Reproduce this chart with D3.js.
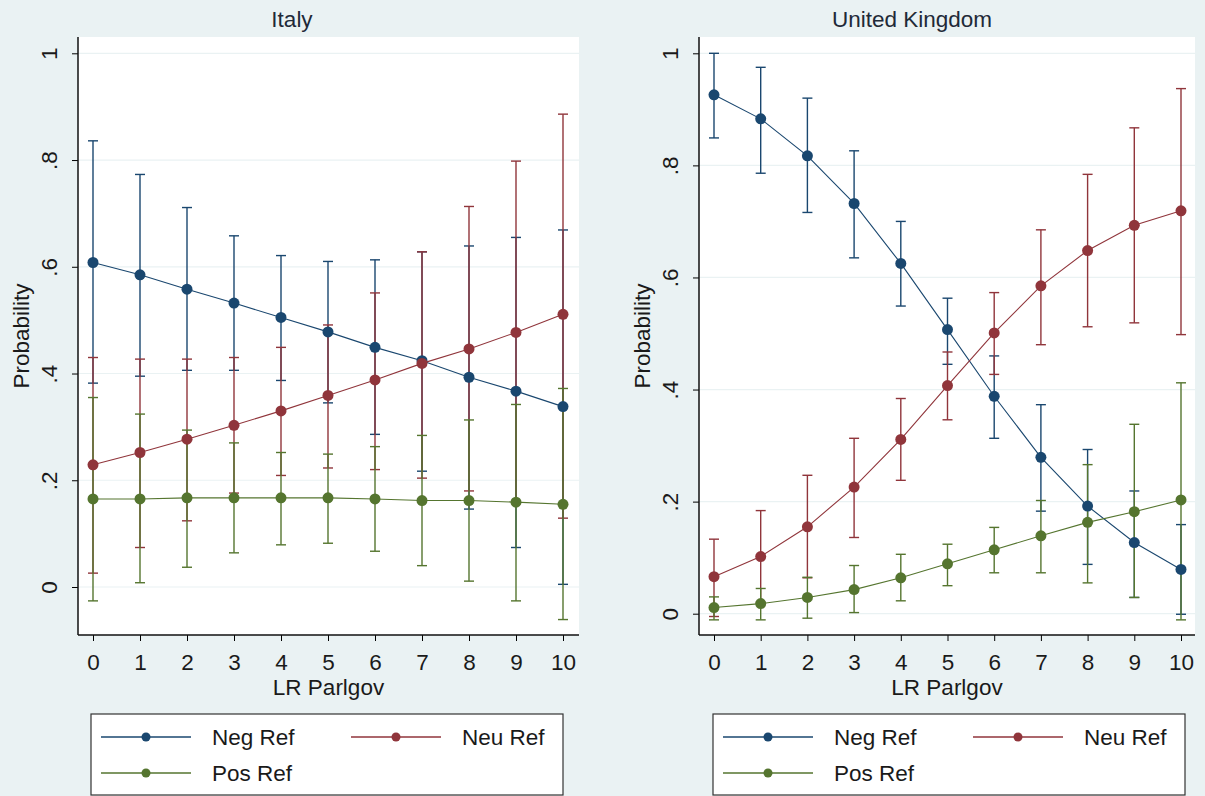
<!DOCTYPE html>
<html>
<head>
<meta charset="utf-8">
<script src="https://cdn.jsdelivr.net/npm/d3@7"></script>
<style>
body { margin: 0; background: #eaf2f3; }
text { font-family: "Liberation Sans", Arial, sans-serif; fill: #1a1a1a; }
</style>
</head>
<body>
<div id="chart-area"></div>
<script>

// Data
var lrTicks = [0, 1, 2, 3, 4, 5, 6, 7, 8, 9, 10];
var yTicks = [0, 0.2, 0.4, 0.6, 0.8, 1];
var yTickLabels = ["0", ".2", ".4", ".6", ".8", "1"];
var seriesNames = ["Neg Ref", "Neu Ref", "Pos Ref"];
var panelTitles = ["Italy", "United Kingdom"];

// Italy
var itNeg   = [0.608, 0.585, 0.558, 0.532, 0.505, 0.478, 0.449, 0.424, 0.393, 0.367, 0.338];
var itNegHi = [0.836, 0.773, 0.711, 0.658, 0.621, 0.610, 0.613, 0.628, 0.639, 0.655, 0.669];
var itNegLo = [0.382, 0.395, 0.406, 0.406, 0.387, 0.345, 0.286, 0.217, 0.146, 0.074, 0.005];
var itNeu   = [0.229, 0.252, 0.277, 0.303, 0.330, 0.359, 0.388, 0.419, 0.446, 0.477, 0.511];
var itNeuHi = [0.430, 0.427, 0.427, 0.430, 0.449, 0.491, 0.551, 0.628, 0.713, 0.798, 0.886];
var itNeuLo = [0.026, 0.074, 0.124, 0.176, 0.209, 0.223, 0.220, 0.204, 0.180, 0.156, 0.129];
var itPos   = [0.165, 0.165, 0.167, 0.167, 0.167, 0.167, 0.165, 0.162, 0.162, 0.159, 0.155];
var itPosHi = [0.355, 0.324, 0.294, 0.270, 0.252, 0.249, 0.263, 0.284, 0.313, 0.342, 0.372];
var itPosLo = [-0.026, 0.008, 0.037, 0.064, 0.079, 0.082, 0.067, 0.040, 0.011, -0.026, -0.061];

// United Kingdom
var ukNeg   = [0.926, 0.883, 0.817, 0.732, 0.625, 0.507, 0.388, 0.279, 0.192, 0.127, 0.079];
var ukNegHi = [1.000, 0.975, 0.920, 0.826, 0.700, 0.563, 0.460, 0.373, 0.293, 0.219, 0.159];
var ukNegLo = [0.849, 0.786, 0.716, 0.635, 0.549, 0.445, 0.313, 0.183, 0.088, 0.029, -0.001];
var ukNeu   = [0.066, 0.102, 0.155, 0.226, 0.311, 0.407, 0.501, 0.585, 0.648, 0.693, 0.719];
var ukNeuHi = [0.133, 0.184, 0.247, 0.313, 0.384, 0.467, 0.573, 0.685, 0.784, 0.867, 0.937];
var ukNeuLo = [-0.005, 0.020, 0.064, 0.136, 0.238, 0.346, 0.427, 0.480, 0.512, 0.519, 0.498];
var ukPos   = [0.011, 0.018, 0.029, 0.043, 0.064, 0.089, 0.114, 0.139, 0.163, 0.182, 0.203];
var ukPosHi = [0.030, 0.045, 0.065, 0.086, 0.106, 0.124, 0.154, 0.202, 0.266, 0.338, 0.412];
var ukPosLo = [-0.011, -0.011, -0.008, 0.002, 0.023, 0.050, 0.073, 0.073, 0.055, 0.029, -0.011];

// Stata s2color
var colors = ["#1a476f", "#90353b", "#55752f"];
var fontSize = 22.5;

var svg = d3.select("#chart-area").append("svg")
	.attr("width", 1205)
	.attr("height", 796);

svg.append("rect")
	.attr("width", 1205)
	.attr("height", 796)
	.attr("fill", "#eaf2f3");

var panels = [
	{ title: panelTitles[0], titleX: 292, left: 78, right: 579, xRange: [93, 563], yRange: [587, 53.3],
	  legendLeft: 91,
	  series: [[itNeg, itNegLo, itNegHi], [itNeu, itNeuLo, itNeuHi], [itPos, itPosLo, itPosHi]] },
	{ title: panelTitles[1], titleX: 912, left: 699, right: 1195, xRange: [714, 1181], yRange: [613.7, 53.3],
	  legendLeft: 713,
	  series: [[ukNeg, ukNegLo, ukNegHi], [ukNeu, ukNeuLo, ukNeuHi], [ukPos, ukPosLo, ukPosHi]] }
];

var plotTop = 37, plotBottom = 635;

panels.forEach(drawPanel);

function drawPanel(p) {
	var x = d3.scaleLinear().domain([0, 10]).range(p.xRange);
	var y = d3.scaleLinear().domain([0, 1]).range(p.yRange);

	var g = svg.append("g");

	// title
	g.append("text")
		.attr("x", p.titleX)
		.attr("y", 27)
		.attr("text-anchor", "middle")
		.style("font-size", fontSize + "px")
		.style("fill", "#1f2a38")
		.text(p.title);

	// plot region
	g.append("rect")
		.attr("x", p.left)
		.attr("y", plotTop)
		.attr("width", p.right - p.left)
		.attr("height", plotBottom - plotTop)
		.attr("fill", "#ffffff");

	// grid lines
	g.selectAll(".grid").data(yTicks).enter().append("line")
		.attr("class", "grid")
		.attr("x1", p.left)
		.attr("x2", p.right)
		.attr("y1", function(d) { return y(d); })
		.attr("y2", function(d) { return y(d); })
		.attr("stroke", "#eaf2f3")
		.attr("stroke-width", 1.2);

	// confidence intervals (rcap) first
	p.series.forEach(function(s, i) {
		var ci = g.append("g")
			.attr("stroke", colors[i])
			.attr("stroke-width", 1.4)
			.attr("fill", "none");
		var rows = lrTicks.map(function(v, j) { return { x: v, lo: s[1][j], hi: s[2][j] }; });

		ci.selectAll(".bar").data(rows).enter().append("line")
			.attr("x1", function(d) { return x(d.x); })
			.attr("x2", function(d) { return x(d.x); })
			.attr("y1", function(d) { return y(d.lo); })
			.attr("y2", function(d) { return y(d.hi); });

		["lo", "hi"].forEach(function(k) {
			ci.selectAll(".cap-" + k).data(rows).enter().append("line")
				.attr("x1", function(d) { return x(d.x) - 5; })
				.attr("x2", function(d) { return x(d.x) + 5; })
				.attr("y1", function(d) { return y(d[k]); })
				.attr("y2", function(d) { return y(d[k]); });
		});
	});

	// connected lines with markers
	var line = d3.line()
		.x(function(d) { return x(d.x); })
		.y(function(d) { return y(d.v); });

	p.series.forEach(function(s, i) {
		var pts = lrTicks.map(function(v, j) { return { x: v, v: s[0][j] }; });
		g.append("path")
			.attr("d", line(pts))
			.attr("fill", "none")
			.attr("stroke", colors[i])
			.attr("stroke-width", 1.1);
		g.selectAll(".pt" + i).data(pts).enter().append("circle")
			.attr("cx", function(d) { return x(d.x); })
			.attr("cy", function(d) { return y(d.v); })
			.attr("r", 5.5)
			.attr("fill", colors[i]);
	});

	// y axis
	var yAxis = d3.axisLeft(y)
		.tickValues(yTicks)
		.tickFormat(function(d, i) { return yTickLabels[i]; })
		.tickSize(6);
	var yg = g.append("g")
		.attr("transform", "translate(" + p.left + ",0)")
		.call(yAxis);
	yg.select(".domain").remove();
	yg.selectAll("line").attr("stroke", "#000");
	yg.selectAll("text")
		.attr("transform", "rotate(-90)")
		.attr("x", 0)
		.attr("y", -21)
		.attr("dy", 0)
		.attr("text-anchor", "middle")
		.style("font-size", fontSize + "px")
		.style("font-family", "Liberation Sans, Arial, sans-serif")
		.style("fill", "#1a1a1a");

	// x axis
	var xAxis = d3.axisBottom(x)
		.tickValues(lrTicks)
		.tickSize(6)
		.tickPadding(13);
	var xg = g.append("g")
		.attr("transform", "translate(0," + plotBottom + ")")
		.call(xAxis);
	xg.select(".domain").remove();
	xg.selectAll("line").attr("stroke", "#000");
	xg.selectAll("text")
		.style("font-size", fontSize + "px")
		.style("font-family", "Liberation Sans, Arial, sans-serif")
		.style("fill", "#1a1a1a");

	// axis lines
	g.append("line")
		.attr("x1", p.left).attr("x2", p.left)
		.attr("y1", plotTop).attr("y2", plotBottom)
		.attr("stroke", "#111").attr("stroke-width", 1.5);
	g.append("line")
		.attr("x1", p.left).attr("x2", p.right)
		.attr("y1", plotBottom).attr("y2", plotBottom)
		.attr("stroke", "#111").attr("stroke-width", 1.5);

	// axis titles
	g.append("text")
		.attr("transform", "translate(" + (p.left - 49) + "," + ((plotTop + plotBottom) / 2) + ") rotate(-90)")
		.attr("text-anchor", "middle")
		.style("font-size", fontSize + "px")
		.text("Probability");
	g.append("text")
		.attr("x", (p.left + p.right) / 2)
		.attr("y", 695)
		.attr("text-anchor", "middle")
		.style("font-size", fontSize + "px")
		.text("LR Parlgov");

	// legend
	var lg = g.append("g").attr("transform", "translate(" + p.legendLeft + ",714)");
	lg.append("rect")
		.attr("width", 472)
		.attr("height", 81)
		.attr("fill", "#ffffff")
		.attr("stroke", "#333")
		.attr("stroke-width", 1.2);

	var legendPos = [[10, 23], [260, 23], [10, 59]];
	seriesNames.forEach(function(name, i) {
		var item = lg.append("g").attr("transform", "translate(" + legendPos[i][0] + "," + legendPos[i][1] + ")");
		item.append("line")
			.attr("x1", 0).attr("x2", 90)
			.attr("stroke", colors[i])
			.attr("stroke-width", 1.6);
		item.append("circle")
			.attr("cx", 45)
			.attr("r", 4.5)
			.attr("fill", colors[i]);
		item.append("text")
			.attr("x", 111)
			.attr("y", 8)
			.style("font-size", fontSize + "px")
			.text(name);
	});
}

</script>
</body>
</html>
